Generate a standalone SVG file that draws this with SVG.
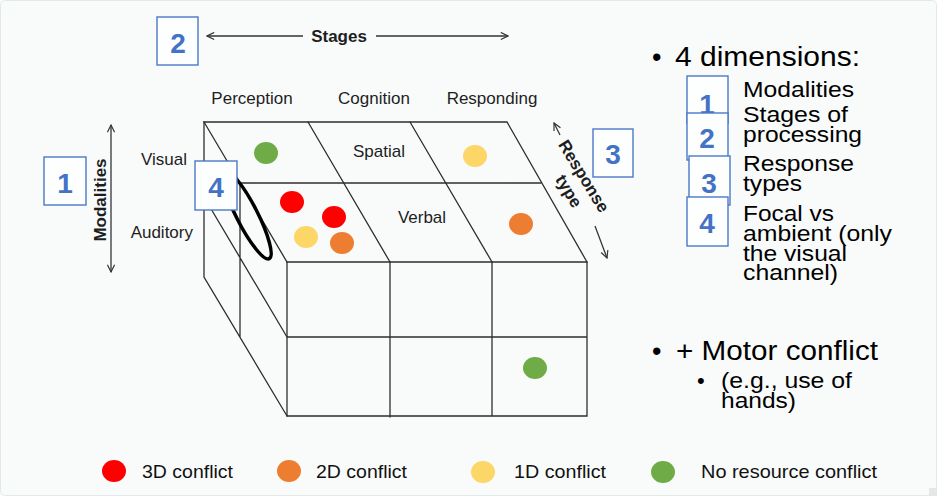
<svg xmlns="http://www.w3.org/2000/svg" width="937" height="496" viewBox="0 0 937 496">
<style>
.cube{fill:none;stroke:#2e2e2e;stroke-width:1.3;stroke-linecap:round}
.lbl{font-family:"Liberation Sans",Arial,sans-serif;font-size:17px;fill:#1e1e1e}
.bold{font-family:"Liberation Sans",Arial,sans-serif;font-size:17px;font-weight:bold;fill:#1e1e1e}
.box{fill:#fdfefe;stroke:#4a78c8;stroke-width:1.4}
.num{font-family:"Liberation Sans",Arial,sans-serif;font-size:28px;font-weight:bold;fill:#4472C4;text-anchor:middle}
.big{font-family:"Liberation Sans",Arial,sans-serif;font-size:27px;fill:#000}
.mid{font-family:"Liberation Sans",Arial,sans-serif;font-size:22px;fill:#000}
.leg{font-family:"Liberation Sans",Arial,sans-serif;font-size:19px;fill:#111}
.arr{fill:none;stroke:#333;stroke-width:1.3}
.red{fill:#FF0000}.ora{fill:#ED7D31}.yel{fill:#FCD667}.grn{fill:#6FAB46}
</style>
<defs>
<marker id="chev" viewBox="0 0 10 10" refX="9" refY="5" markerWidth="9" markerHeight="9" markerUnits="userSpaceOnUse" orient="auto-start-reverse">
<path d="M1,1 L9,5 L1,9" fill="none" stroke="#333" stroke-width="1.3"/>
</marker>
</defs>
<rect x="0.5" y="0.5" width="936" height="495" rx="4" fill="#f9fbfb" stroke="#e0eaea"/>
<rect x="929" y="488" width="8" height="8" fill="#e6e6e6"/>

<g id="cube">
<path class="cube" d="M204,122 H507 L587,262 H287 Z"/>
<path class="cube" d="M240,183 H541"/>
<path class="cube" d="M308,122 L390,262 M410,122 L492,262"/>
<path class="cube" d="M287,262 V416 H587 V262 M390,262 V417 M492,262 V416 M287,337 H587"/>
<path class="cube" d="M204,122 V277 L287,416 M204,197 L287,337 M240,183 V337"/>
</g>

<g id="axis-labels">
<text class="lbl" x="252" y="104" text-anchor="middle">Perception</text>
<text class="lbl" x="374" y="104" text-anchor="middle">Cognition</text>
<text class="lbl" x="492" y="104" text-anchor="middle">Responding</text>
<text class="lbl" x="187" y="165" text-anchor="end">Visual</text>
<text class="lbl" x="193" y="238" text-anchor="end">Auditory</text>
<text class="lbl" x="379" y="157" text-anchor="middle">Spatial</text>
<text class="lbl" x="422" y="223" text-anchor="middle">Verbal</text>
<text class="bold" x="339" y="42" text-anchor="middle">Stages</text>
<text class="bold" transform="translate(106,200) rotate(-90)" text-anchor="middle">Modalities</text>
<text class="bold" transform="translate(584,176) rotate(58.5) translate(0,6)" text-anchor="middle">Response</text>
<text class="bold" transform="translate(569,191) rotate(58.5) translate(0,6)" text-anchor="middle">type</text>
</g>

<g id="connectors">
<line class="arr" x1="303" y1="36" x2="207" y2="36" marker-end="url(#chev)"/>
<line class="arr" x1="376" y1="36" x2="508" y2="36" marker-end="url(#chev)"/>
<line class="arr" x1="111" y1="125" x2="111" y2="272" marker-start="url(#chev)" marker-end="url(#chev)"/>
<line class="arr" x1="560" y1="135" x2="554" y2="123" marker-end="url(#chev)"/>
<line class="arr" x1="595" y1="226" x2="607" y2="258" marker-end="url(#chev)"/>
</g>

<g id="conflicts">
<ellipse class="grn" cx="266" cy="153" rx="12" ry="11"/>
<ellipse class="red" cx="292" cy="202" rx="12" ry="11"/>
<ellipse class="red" cx="334" cy="217" rx="12" ry="11"/>
<ellipse class="yel" cx="306" cy="237" rx="12" ry="11"/>
<ellipse class="ora" cx="342" cy="243" rx="12" ry="11"/>
<ellipse class="yel" cx="475" cy="156" rx="12" ry="11"/>
<ellipse class="ora" cx="521" cy="224" rx="12" ry="11"/>
<ellipse class="grn" cx="535" cy="368" rx="12" ry="11"/>
</g>

<g id="focal-ellipse">
<ellipse cx="247" cy="215" rx="49" ry="10.5" transform="rotate(63 247 215)" fill="none" stroke="#000" stroke-width="3.5"/>
</g>

<g id="box-1"><rect class="box" x="44" y="157" width="42" height="48"/><text class="num" x="65" y="193">1</text></g>
<g id="box-2"><rect class="box" x="157" y="17" width="41" height="48"/><text class="num" x="178" y="53">2</text></g>
<g id="box-3"><rect class="box" x="593" y="129" width="40" height="48"/><text class="num" x="613" y="164">3</text></g>
<g id="box-4"><rect class="box" x="195" y="161" width="42" height="49"/><text class="num" x="216" y="197">4</text></g>

<g id="dimensions-list">
<text class="big" x="652" y="66">•</text>
<text class="big" x="675" y="66" textLength="185" lengthAdjust="spacingAndGlyphs">4 dimensions:</text>
<g id="rbox-1"><rect class="box" x="687" y="76" width="41" height="47"/><text class="num" x="707" y="114">1</text></g>
<g id="rbox-2"><rect class="box" x="687" y="113" width="41" height="47"/><text class="num" x="707" y="148">2</text></g>
<g id="rbox-3"><rect class="box" x="689" y="156" width="41" height="49"/><text class="num" x="709" y="193">3</text></g>
<g id="rbox-4"><rect class="box" x="687" y="197" width="41" height="49"/><text class="num" x="707" y="233">4</text></g>
<text class="mid" x="743" y="97" textLength="111" lengthAdjust="spacingAndGlyphs">Modalities</text>
<text class="mid" x="743" y="122" textLength="105" lengthAdjust="spacingAndGlyphs">Stages of</text>
<text class="mid" x="743" y="142" textLength="119" lengthAdjust="spacingAndGlyphs">processing</text>
<text class="mid" x="743" y="171" textLength="111" lengthAdjust="spacingAndGlyphs">Response</text>
<text class="mid" x="743" y="191" textLength="59" lengthAdjust="spacingAndGlyphs">types</text>
<text class="mid" x="743" y="221" textLength="91" lengthAdjust="spacingAndGlyphs">Focal vs</text>
<text class="mid" x="743" y="241" textLength="149" lengthAdjust="spacingAndGlyphs">ambient (only</text>
<text class="mid" x="743" y="261" textLength="104" lengthAdjust="spacingAndGlyphs">the visual</text>
<text class="mid" x="743" y="280" textLength="95" lengthAdjust="spacingAndGlyphs">channel)</text>
</g>

<g id="motor">
<text class="big" x="652" y="360">•</text>
<text class="big" x="676" y="360" textLength="202" lengthAdjust="spacingAndGlyphs">+ Motor conflict</text>
<text class="mid" x="697" y="388" font-size="17">•</text>
<text class="mid" x="721" y="388" textLength="131" lengthAdjust="spacingAndGlyphs">(e.g., use of</text>
<text class="mid" x="721" y="408" textLength="75" lengthAdjust="spacingAndGlyphs">hands)</text>
</g>

<g id="legend">
<ellipse class="red" cx="114" cy="471" rx="12" ry="11"/>
<text class="leg" x="142" y="478" textLength="91" lengthAdjust="spacingAndGlyphs">3D conflict</text>
<ellipse class="ora" cx="289" cy="471" rx="12" ry="11"/>
<text class="leg" x="316" y="478" textLength="91" lengthAdjust="spacingAndGlyphs">2D conflict</text>
<ellipse class="yel" cx="483" cy="472" rx="12" ry="11"/>
<text class="leg" x="514" y="478" textLength="92" lengthAdjust="spacingAndGlyphs">1D conflict</text>
<ellipse class="grn" cx="663" cy="472" rx="12" ry="11"/>
<text class="leg" x="701" y="478" textLength="176" lengthAdjust="spacingAndGlyphs">No resource conflict</text>
</g>
</svg>
